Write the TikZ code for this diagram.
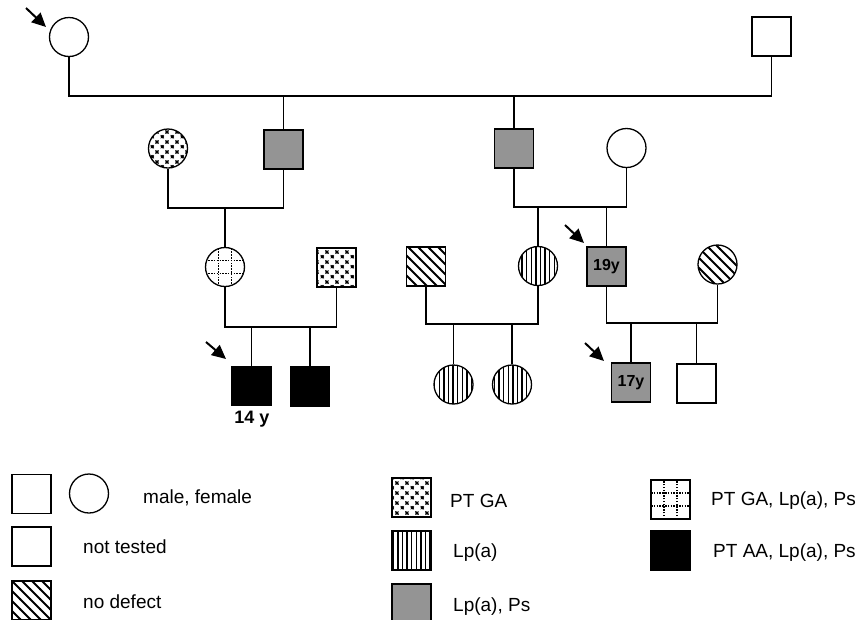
\documentclass[tikz,border=0pt]{standalone}
\usepackage{fontspec}
\setmainfont{Liberation Sans}
\usetikzlibrary{patterns,arrows.meta,calc}

\pgfdeclarepatternformonly{vstripes}{\pgfqpoint{-1pt}{-1pt}}{\pgfqpoint{5.6pt}{5.6pt}}{\pgfqpoint{4.6pt}{4.6pt}}{%
  \pgfsetlinewidth{1.3pt}%
  \pgfpathmoveto{\pgfqpoint{2.3pt}{-1pt}}%
  \pgfpathlineto{\pgfqpoint{2.3pt}{5.6pt}}%
  \pgfusepath{stroke}}

\pgfdeclarepatternformonly{nwhatch}{\pgfqpoint{-1pt}{-1pt}}{\pgfqpoint{11pt}{11pt}}{\pgfqpoint{10pt}{10pt}}{%
  \pgfsetlinewidth{1.8pt}%
  \pgfpathmoveto{\pgfqpoint{-0.5pt}{10.5pt}}%
  \pgfpathlineto{\pgfqpoint{10.5pt}{-0.5pt}}%
  \pgfusepath{stroke}}

\pgfdeclarepatternformonly{ptga}{\pgfqpoint{0pt}{0pt}}{\pgfqpoint{10pt}{10pt}}{\pgfqpoint{10pt}{10pt}}{%
  \pgfsetlinewidth{0.65pt}%
  \pgfpathcircle{\pgfqpoint{2.5pt}{2.5pt}}{1.5pt}%
  \pgfpathmoveto{\pgfqpoint{0.7pt}{0.7pt}}\pgfpathlineto{\pgfqpoint{4.3pt}{4.3pt}}%
  \pgfpathmoveto{\pgfqpoint{0.7pt}{4.3pt}}\pgfpathlineto{\pgfqpoint{4.3pt}{0.7pt}}%
  \pgfpathcircle{\pgfqpoint{7.5pt}{7.5pt}}{1.5pt}%
  \pgfpathmoveto{\pgfqpoint{5.7pt}{5.7pt}}\pgfpathlineto{\pgfqpoint{9.3pt}{9.3pt}}%
  \pgfpathmoveto{\pgfqpoint{5.7pt}{9.3pt}}\pgfpathlineto{\pgfqpoint{9.3pt}{5.7pt}}%
  \pgfusepath{stroke}}

\tikzset{
  base/.style={draw, line width=1.3pt, inner sep=0pt, minimum size=39pt},
  male/.style={base, rectangle},
  female/.style={base, circle},
  ga/.style={pattern=ptga},
  lp/.style={pattern=vstripes},
  lps/.style={fill=black!42},
  nodef/.style={pattern=nwhatch},
  aa/.style={fill=black},
  gridln/.style={dash pattern=on 1.5pt off 1.3pt, line width=1.6pt},
  gridfill/.style={path picture={
    \path (path picture bounding box.south west) coordinate (pa)
          (path picture bounding box.north east) coordinate (pb);
    \foreach \f in {0.3333,0.6667}{
      \draw[gridln] ($(pa)!\f!(pa -| pb)$) -- ($(pa |- pb)!\f!(pb)$);
      \draw[gridln] ($(pa)!\f!(pa |- pb)$) -- ($(pa -| pb)!\f!(pb)$);
    }}},
  conn/.style={line width=1.1pt},
  arr/.style={line width=2pt, -{Triangle[length=14pt,width=13pt]}},
  lbl/.style={anchor=west, inner sep=0pt, font=\fontsize{19}{22}\selectfont},
  age/.style={font=\bfseries\fontsize{16}{18}\selectfont},
  agebig/.style={inner sep=0pt, font=\bfseries\fontsize{18}{20}\selectfont}
}

\begin{document}
\begin{tikzpicture}[x=1pt,y=-1pt]
\useasboundingbox (0,0) rectangle (859,619);

% Generation I
\node[female] (I1) at (69,37) {};
\node[male] (I2) at (771.5,36.5) {};

% Generation II
\node[female,ga] (II1) at (168,148.5) {};
\node[male,lps] (II2) at (283.5,149.5) {};
\node[male,lps] (II3) at (514,148.5) {};
\node[female] (II4) at (626.5,148) {};

% Generation III
\node[female,gridfill] (III1) at (225,267) {};
\node[male,ga] (III2) at (336.5,267.5) {};
\node[male,nodef] (III3) at (426,266.5) {};
\node[female,lp] (III4) at (538,266) {};
\node[male,lps,age] (III5) at (606.5,266.5) {19y};
\node[female,nodef] (III6) at (717.5,264.5) {};

% Generation IV
\node[male,aa] (IV1) at (251.5,386) {};
\node[male,aa] (IV2) at (310,386.5) {};
\node[female,lp] (IV3) at (453.5,384.5) {};
\node[female,lp] (IV4) at (512,384.5) {};
\node[male,lps,age] (IV5) at (631,382.5) {17y};
\node[male] (IV6) at (696.5,383.5) {};
\node[agebig] (age14) at (252,419) {14 y};

% marriage / sibship lines
\coordinate (m1) at (400,96);
\draw[conn] (I1.south) |- (m1) -| (I2.south);
\draw[conn] (II2.north) -- (II2.north |- m1);
\draw[conn] (II3.north) -- (II3.north |- m1);

\coordinate (m2) at (225,208);
\draw[conn] (II1.south) |- (m2) -| (II2.south);
\draw[conn] (III1.north) -- (III1.north |- m2);

\coordinate (m3) at (570,207);
\draw[conn] (II3.south) |- (m3) -| (II4.south);
\draw[conn] (III4.north) -- (III4.north |- m3);
\draw[conn] (III5.north) -- (III5.north |- m3);

\coordinate (m4) at (280,327);
\draw[conn] (III1.south) |- (m4) -| (III2.south);
\draw[conn] (IV1.north) -- (IV1.north |- m4);
\draw[conn] (IV2.north) -- (IV2.north |- m4);

\coordinate (m5) at (480,324);
\draw[conn] (III3.south) |- (m5) -| (III4.south);
\draw[conn] (IV3.north) -- (IV3.north |- m5);
\draw[conn] (IV4.north) -- (IV4.north |- m5);

\coordinate (m6) at (660,323);
\draw[conn] (III5.south) |- (m6) -| (III6.south);
\draw[conn] (IV5.north) -- (IV5.north |- m6);
\draw[conn] (IV6.north) -- (IV6.north |- m6);

% proband arrows
\coordinate (a1s) at (26,8);   \coordinate (a1e) at (46,27);
\coordinate (a2s) at (206,342); \coordinate (a2e) at (226,359);
\coordinate (a3s) at (565,225); \coordinate (a3e) at (584,243);
\coordinate (a4s) at (585,343); \coordinate (a4e) at (604,361);
\draw[arr] (a1s) -- (a1e);
\draw[arr] (a2s) -- (a2e);
\draw[arr] (a3s) -- (a3e);
\draw[arr] (a4s) -- (a4e);

% legend
\node[male] (L1) at (31.5,494) {};
\node[female] (L2) at (89,493.5) {};
\node[lbl] (t1) at (143,498) {male, female};
\node[male] (L3) at (31.5,546.5) {};
\node[lbl] (t2) at (83,547) {not tested};
\node[male,nodef] (L4) at (31.5,600.5) {};
\node[lbl] (t3) at (83,602) {no defect};

\node[male,ga] (L5) at (411.5,497.5) {};
\node[lbl] (t4) at (450,501) {PT GA};
\node[male,lp] (L6) at (411.5,550.5) {};
\node[lbl] (t5) at (453,553) {Lp(a)};
\node[male,lps] (L7) at (411.5,603.5) {};
\node[lbl] (t6) at (453,607) {Lp(a), Ps};

\node[male,gridfill] (L8) at (670.5,499.5) {};
\node[lbl] (t7) at (711,501) {PT GA, Lp(a), Ps};
\node[male,aa] (L9) at (670.5,550.5) {};
\node[lbl] (t8) at (713,553) {PT AA, Lp(a), Ps};
\end{tikzpicture}
\end{document}
